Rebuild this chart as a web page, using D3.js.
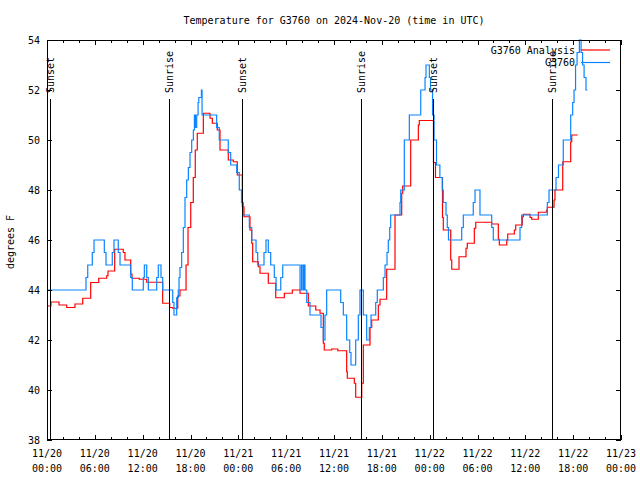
<!DOCTYPE html>
<html><head><meta charset="utf-8">
<script src="https://cdn.jsdelivr.net/npm/d3@7"></script>
<style>
html,body{margin:0;padding:0;background:#fff;}
svg text{font-family:"DejaVu Sans Mono","Liberation Mono",monospace;font-size:10px;fill:#000;}
</style></head>
<body>
<svg id="c" width="640" height="480"></svg>
<script>
// ---- data (hours since 2024-11-20 00:00 UTC, degrees F) ----
const redHours = [0.00,0.50,1.51,2.47,3.51,4.48,5.48,6.49,7.49,7.65,8.49,9.57,9.78,10.50,10.66,11.58,12.51,14.51,15.39,15.77,16.40,16.68,17.44,17.69,18.03,18.35,18.60,18.85,19.61,20.45,20.74,21.36,21.70,22.74,23.37,23.87,24.50,24.71,25.46,25.68,25.80,26.51,26.72,27.76,28.69,29.77,30.77,31.74,32.78,33.71,34.25,34.66,34.78,35.71,36.47,37.59,37.67,38.55,38.72,39.48,39.68,40.52,40.73,41.56,41.77,42.61,43.65,44.49,44.62,45.62,46.58,46.70,48.48,48.73,49.61,49.71,50.64,50.77,51.68,52.56,52.72,53.60,53.78,55.78,56.61,56.74,57.67,57.79,58.62,58.79,59.62,59.75,60.59,60.80,61.63,62.68,62.76,63.60,63.72,64.69,65.69,65.82,66.57];
const redValues = [43.36,43.52,43.40,43.30,43.44,43.67,44.30,44.47,44.57,44.76,45.63,45.50,45.20,44.64,44.47,44.43,44.31,43.47,43.30,43.27,43.76,44.00,45.00,46.50,47.50,48.50,49.60,50.27,51.07,50.87,50.67,50.40,49.60,49.20,49.13,48.60,47.33,46.93,46.40,45.87,45.13,44.93,44.67,44.27,43.69,43.87,44.00,43.87,43.36,43.20,43.07,41.87,41.60,41.64,41.57,40.73,40.47,40.27,39.71,40.27,41.80,42.50,42.80,43.40,43.63,44.83,47.00,47.87,48.16,50.00,50.60,50.78,49.10,48.50,46.90,46.40,45.20,44.83,45.33,45.67,45.87,46.47,46.71,46.64,46.03,45.80,46.00,46.24,46.40,46.60,46.93,47.03,46.90,46.83,47.11,47.20,47.31,47.60,48.00,49.13,49.93,50.20,50.20];

const blueHours = [0.00,4.89,5.11,5.68,5.90,7.19,7.40,8.19,8.40,8.94,9.16,10.50,10.70,12.08,12.21,12.51,12.71,13.76,13.96,14.30,14.51,15.77,15.93,16.27,16.47,16.56,16.68,16.89,17.10,17.31,17.52,17.73,17.94,18.15,18.36,18.49,18.62,18.78,18.95,19.04,19.37,19.45,21.28,21.61,22.74,23.04,23.80,24.12,24.40,24.62,25.38,25.68,26.22,26.43,27.22,27.47,27.76,28.06,28.51,28.73,29.32,29.57,31.74,31.93,32.11,32.24,32.36,32.58,32.99,34.37,34.66,34.87,35.08,36.84,37.17,37.59,37.97,38.13,38.72,39.05,39.26,39.68,40.10,40.43,40.64,41.23,41.43,42.19,42.40,42.65,42.81,42.99,43.11,44.28,44.37,44.82,45.45,46.88,47.42,47.54,47.96,48.11,48.23,48.36,48.55,48.86,49.28,49.58,49.71,50.05,50.21,50.36,52.02,52.22,53.47,53.69,54.31,55.78,55.98,59.33,59.54,62.76,62.97,63.85,64.16,64.76,65.69,65.94,66.11,66.30,66.49,66.78,66.99,67.18,67.37,67.61,67.78];
const blueValues = [44,44.5,45,45.5,46,45.5,45,45.5,46,45.5,45,44.5,44,44.5,45,44.5,44,44.5,45,44.5,44,43.5,43,43.7,44,44.5,44.9,45.5,46.5,47.7,48.4,48.9,49.5,50,50.4,51,50.5,51,51.5,51.7,52,51,50.5,50,49.5,49,48.7,48,47.5,47,46.5,46,45.5,45,45.5,46,45.5,45,44.5,44,44.5,45,44,45,44,45,44,43.5,43,42.5,42,43,44,43.5,43,42,41.5,41,42,43,44,43,42,42.5,43,43.5,44,44.5,45,45.5,46,46.5,47,47.5,48,50,51,52,52.5,53,52.5,52,52,51,50,49,48.5,48,47.5,47,46.5,46,46.5,47,47.5,48,47,46.5,46,46.5,47,47.5,48,48.5,49,50,51,51.5,52,53,53.5,54,53.5,53,52.5,52,52];

const eventHours = [0.38, 15.34, 24.50, 39.43, 48.46, 63.39];
const eventLabels = ["Sunset","Sunrise","Sunset","Sunrise","Sunset","Sunrise"];

const yTicks = [38,40,42,44,46,48,50,52,54];
const xTickHours = [0,6,12,18,24,30,36,42,48,54,60,66,72];
const xTickDates = ["11/20","11/20","11/20","11/20","11/21","11/21","11/21","11/21","11/22","11/22","11/22","11/22","11/23"];
const xTickTimes = ["00:00","06:00","12:00","18:00","00:00","06:00","12:00","18:00","00:00","06:00","12:00","18:00","00:00"];
const seriesNames = ["G3760 Analysis","G3760"];
const seriesColors = ["#ff0000","#0a84ff"];

// ---- drawing ----
const L=47, R=621, T=40, B=440;
const svg = d3.select("#c");
const x = d3.scaleLinear().domain([0,72]).range([L,R]);
const y = d3.scaleLinear().domain([38,54]).range([B,T]);

svg.append("defs").append("clipPath").attr("id","clip")
  .append("rect").attr("x",L).attr("y",T-1).attr("width",R-L).attr("height",B-T+1);

svg.append("text").attr("x",(L+R)/2).attr("y",24).attr("text-anchor","middle")
  .text("Temperature for G3760 on 2024-Nov-20 (time in UTC)");
svg.append("text").attr("transform","translate(14,242) rotate(-90)").attr("text-anchor","middle")
  .text("degrees F");

const g = svg.append("g").attr("clip-path","url(#clip)");
const line = d3.line().x(d=>x(d[0])).y(d=>y(d[1])).curve(d3.curveStepAfter);
const redPts = redHours.map((h,i)=>[h,redValues[i]]);
const bluePts = blueHours.map((h,i)=>[h,blueValues[i]]);
g.append("path").attr("d",line(redPts)).attr("fill","none").attr("stroke",seriesColors[0]).attr("stroke-width",1.2);
g.append("path").attr("d",line(bluePts)).attr("fill","none").attr("stroke",seriesColors[1]).attr("stroke-width",1.2);

// event lines
eventHours.forEach((h,i)=>{
  const xe = Math.round(x(h))+0.5;
  svg.append("line").attr("x1",xe).attr("x2",xe).attr("y1",99).attr("y2",B)
    .attr("stroke","#000").attr("stroke-width",1);
  svg.append("text").attr("transform",`translate(${xe},93) rotate(-90)`)
    .attr("text-anchor","start").attr("dy","0.35em").text(eventLabels[i]);
});

// axes (gnuplot style: inward ticks, mirrored)
const xAxisB = d3.axisBottom(x).tickValues(xTickHours).tickSizeInner(-5).tickSizeOuter(0).tickFormat("");
const xAxisT = d3.axisTop(x).tickValues(xTickHours).tickSizeInner(-5).tickSizeOuter(0).tickFormat("");
const minorHours = d3.range(0,73,2).filter(h=>h%6!==0);
const xMinB = d3.axisBottom(x).tickValues(minorHours).tickSizeInner(-3).tickSizeOuter(0).tickFormat("");
const xMinT = d3.axisTop(x).tickValues(minorHours).tickSizeInner(-3).tickSizeOuter(0).tickFormat("");
const yAxisL = d3.axisLeft(y).tickValues(yTicks).tickSizeInner(-5).tickSizeOuter(0).tickFormat("");
const yAxisR = d3.axisRight(y).tickValues(yTicks).tickSizeInner(-5).tickSizeOuter(0).tickFormat("");
[[xAxisB,`translate(0,${B})`],[xMinB,`translate(0,${B})`],[xAxisT,`translate(0,${T})`],[xMinT,`translate(0,${T})`],
 [yAxisL,`translate(${L},0)`],[yAxisR,`translate(${R},0)`]].forEach(([ax,tr])=>{
  const a = svg.append("g").attr("transform",tr).call(ax);
  a.select(".domain").remove();
  a.selectAll("line").attr("stroke","#000").attr("shape-rendering","crispEdges");
});
svg.append("rect").attr("x",L+0.5).attr("y",T+0.5).attr("width",R-L-1).attr("height",B-T-1)
  .attr("fill","none").attr("stroke","#000").attr("shape-rendering","crispEdges");

// tick labels
yTicks.forEach(v=>{
  svg.append("text").attr("x",40).attr("y",y(v)).attr("dy","0.35em").attr("text-anchor","end").text(v);
});
xTickHours.forEach((h,i)=>{
  svg.append("text").attr("x",x(h)).attr("y",457).attr("text-anchor","middle").text(xTickDates[i]);
  svg.append("text").attr("x",x(h)).attr("y",472).attr("text-anchor","middle").text(xTickTimes[i]);
});

// legend
seriesNames.forEach((n,i)=>{
  const ly = 50 + i*12.5;
  svg.append("text").attr("x",575).attr("y",ly).attr("dy","0.35em").attr("text-anchor","end").text(n);
  svg.append("line").attr("x1",581).attr("x2",610).attr("y1",ly).attr("y2",ly)
    .attr("stroke",seriesColors[i]).attr("stroke-width",1.2);
});
</script>
</body></html>
